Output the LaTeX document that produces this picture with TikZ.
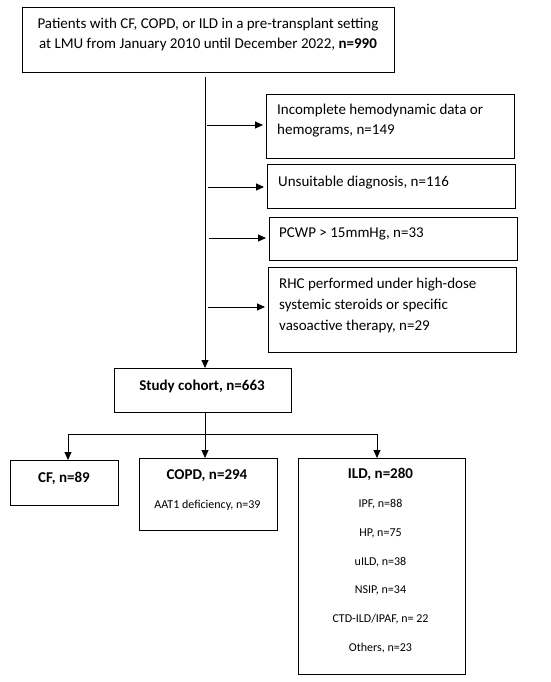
\documentclass[tikz,border=0pt]{standalone}
\usepackage{fontspec}
\setmainfont{Carlito}
\usetikzlibrary{arrows.meta}
\begin{document}
\begin{tikzpicture}[x=1pt,y=-1pt,
  box/.style={draw=black, line width=0.9pt, inner sep=0pt, anchor=north west},
  arr/.style={draw=black, line width=0.9pt, -{Triangle[length=8pt,width=7pt]}},
  ln/.style={draw=black, line width=0.9pt},
  big/.style={font=\fontsize{15}{20.5}\selectfont, inner sep=0pt},
  bigb/.style={font=\fontsize{15}{20.5}\selectfont\bfseries, inner sep=0pt},
  small/.style={font=\fontsize{12}{14}\selectfont, inner sep=0pt},
]
\useasboundingbox (0,0) rectangle (550,682);
% boxes
\node[box, minimum width=372pt, minimum height=65pt] (top) at (22,7) {};
\node[box, minimum width=248pt, minimum height=64pt] (b1) at (266,94) {};
\node[box, minimum width=248pt, minimum height=44pt] (b2) at (267,164) {};
\node[box, minimum width=248pt, minimum height=43pt] (b3) at (269,217) {};
\node[box, minimum width=248pt, minimum height=85pt] (b4) at (268,267) {};
\node[box, minimum width=177pt, minimum height=44pt] (study) at (114,368) {};
\node[box, minimum width=108pt, minimum height=45pt] (cf) at (10,460) {};
\node[box, minimum width=138pt, minimum height=72pt] (copd) at (139,458) {};
\node[box, minimum width=167pt, minimum height=216pt] (ild) at (298,458) {};
% texts
\node[big, anchor=base] (t1) at (208,29) {Patients with CF, COPD, or ILD in a pre-transplant setting};
\node[big, anchor=base] (t2) at (208,49) {at LMU from January 2010 until December 2022, \textbf{n=990}};
\node[big, anchor=base west] (x1a) at (277,114) {Incomplete hemodynamic data or};
\node[big, anchor=base west] (x1b) at (277,134) {hemograms, n=149};
\node[big, anchor=base west] (x2) at (278,186) {Unsuitable diagnosis, n=116};
\node[big, anchor=base west] (x3) at (279,237) {PCWP > 15mmHg, n=33};
\node[big, anchor=base west] (x4a) at (279,288) {RHC performed under high-dose};
\node[big, anchor=base west] (x4b) at (279,309) {systemic steroids or specific};
\node[big, anchor=base west] (x4c) at (279,330) {vasoactive therapy, n=29};
\node[bigb, anchor=base] (st) at (202,390) {Study cohort, n=663};
\node[bigb, anchor=base] (cft) at (64,482) {CF, n=89};
\node[bigb, anchor=base] (copdt) at (207,479) {COPD, n=294};
\node[small, anchor=base] (aat) at (207.5,508) {AAT1 deficiency, n=39};
\node[bigb, anchor=base] (ildt) at (380.5,478) {ILD, n=280};
\node[small, anchor=base] (i1) at (380.5,507) {IPF, n=88};
\node[small, anchor=base] (i2) at (380.5,536) {HP, n=75};
\node[small, anchor=base] (i3) at (380.5,565) {uILD, n=38};
\node[small, anchor=base] (i4) at (380.5,593) {NSIP, n=34};
\node[small, anchor=base] (i5) at (380.5,622) {CTD-ILD/IPAF, n= 22};
\node[small, anchor=base] (i6) at (380.5,651) {Others, n=23};
% connectors
\coordinate (m0) at (205,77);
\draw[arr] (m0) -- (m0 |- study.north);
\coordinate (h1) at (207,125);
\coordinate (h2) at (208,187);
\coordinate (h3) at (209,238);
\coordinate (h4) at (208,307);
\draw[arr, shorten >=3pt] (h1) -- (b1.west |- h1);
\draw[arr, shorten >=3pt] (h2) -- (b2.west |- h2);
\draw[arr, shorten >=3pt] (h3) -- (b3.west |- h3);
\draw[arr, shorten >=3pt] (h4) -- (b4.west |- h4);
\coordinate (j0) at (205,434);
\coordinate (jl) at (68,434);
\coordinate (jr) at (377,434);
\draw[ln] (m0 |- study.south) -- (j0);
\draw[ln] (jl) -- (jr);
\draw[arr] (jl) -- (jl |- cf.north);
\draw[arr] (j0) -- (j0 |- copd.north);
\draw[arr] (jr) -- (jr |- ild.north);
\end{tikzpicture}
\end{document}
